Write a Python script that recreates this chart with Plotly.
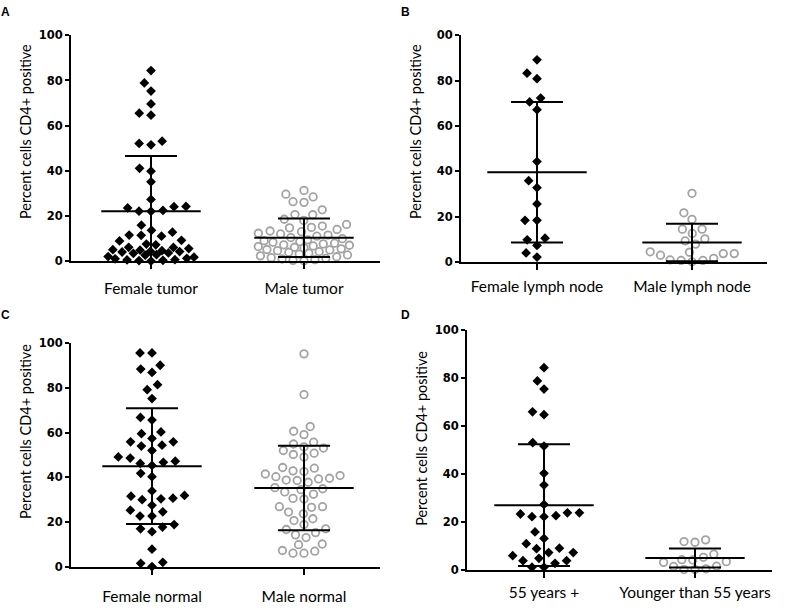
import math
import plotly.graph_objects as go

# ---------------- data ----------------
panel_letters = ["A", "B", "C", "D"]
y_title = "Percent cells CD4+ positive"
y_tick_vals = [0, 20, 40, 60, 80, 100]
y_tick_text = ["0", "20", "40", "60", "80", "100"]
y_tick_text_b = ["0", "20", "40", "60", "80", "00"]

cats_a = ["Female tumor", "Male tumor"]
cats_b = ["Female lymph node", "Male lymph node"]
cats_c = ["Female normal", "Male normal"]
cats_d = ["55 years +", "Younger than 55 years"]

female_tumor = [84.4, 78.9, 75.3, 69.6, 65.5, 64.6, 53.1, 52.1, 51.5, 41.1, 39.8, 35.1, 27.3,
                24.2, 24.1, 23.5, 22.4, 22.1, 22.0, 15.9, 13.6, 12.8, 11.5, 11.4, 11.0, 9.2, 8.9,
                7.5, 7.2, 6.1, 6.0, 5.5, 5.0, 4.8, 4.6, 4.3, 4.2, 4.0, 3.6, 3.4, 2.8, 2.6, 2.0,
                1.7, 1.2, 1.0, 0.6, 0.5, 0.3, 0.2, 0.0]
male_tumor = [31.3, 29.6, 28.4, 26.3, 26.0, 22.7, 20.6, 20.5, 18.5, 18.0, 16.2, 15.5, 14.9,
              14.7, 14.0, 13.3, 13.0, 12.3, 12.0, 11.5, 11.0, 10.4, 9.9, 9.4, 9.0, 8.6, 8.3, 7.9,
              7.6, 7.2, 7.0, 6.7, 6.4, 6.1, 5.8, 5.4, 5.1, 4.9, 4.6, 4.2, 3.9, 3.5, 3.1, 2.7, 2.3,
              1.9, 1.5, 1.2, 0.9, 0.6, 0.3, 0.1]
female_ln = [89.2, 83.3, 80.9, 72.3, 70.6, 67.2, 44.3, 35.9, 32.8, 25.6, 18.4, 18.4, 10.5,
             9.8, 7.3, 4.0, 2.2]
male_ln = [30.3, 21.7, 18.8, 14.5, 14.5, 12.6, 10.2, 9.3, 7.9, 4.5, 4.3, 3.7, 3.7, 3.0, 1.6,
           0.9, 0.7, 0.7, 0.1]
female_normal = [95.6, 95.6, 90.1, 88.4, 86.9, 81.4, 79.2, 75.2, 66.8, 65.6, 60.3, 59.5, 57.4,
                 55.9, 55.9, 54.4, 54.0, 52.0, 49.1, 48.6, 47.2, 46.7, 46.2, 45.3, 41.8, 40.3,
                 33.9, 31.9, 31.6, 30.7, 30.4, 30.0, 27.5, 25.3, 24.6, 22.7, 22.7, 18.9, 17.8,
                 17.0, 15.7, 7.9, 2.0, 1.6, 0.1]
male_normal = [95.2, 77.0, 62.7, 60.6, 59.1, 55.7, 54.9, 53.6, 53.1, 52.0, 50.8, 50.2, 49.1,
               44.4, 44.1, 42.9, 42.6, 41.5, 40.8, 40.3, 39.6, 39.3, 38.8, 38.6, 37.8, 35.4,
               34.9, 34.5, 33.5, 32.5, 30.6, 30.3, 26.9, 26.9, 26.6, 24.5, 23.7, 21.5, 20.7,
               18.9, 17.0, 16.7, 15.3, 14.3, 13.1, 10.2, 9.9, 7.3, 7.0, 6.1, 6.1]
older_55 = [84.4, 78.9, 75.5, 66.0, 64.8, 53.1, 51.7, 40.3, 35.4, 27.3, 23.8, 23.8, 23.3, 22.6,
            22.2, 22.2, 15.8, 13.1, 10.9, 9.0, 8.8, 7.2, 7.2, 5.9, 4.8, 3.8, 3.8, 2.7, 1.1, 1.1]
younger_55 = [12.5, 11.8, 11.5, 6.5, 5.2, 4.2, 4.1, 3.4, 3.1, 1.5, 1.4, 0.4, 0.1, 0.1]

# mean and SD shown as lines
means_a = [22.0, 10.3]
sds_a = [24.5, 8.5]
means_b = [39.6, 8.6]
sds_b = [31.0, 8.3]
means_c = [45.0, 35.2]
sds_c = [25.9, 18.9]
means_d = [27.0, 4.9]
sds_d = [25.4, 4.0]

# ---------------- layout geometry (pixels) ----------------
W, H = 785, 610
geom = {
    "A": dict(xl=71, xr=380, c0=151, c1=304, ytop=29, ybot=260),
    "B": dict(xl=461, xr=767, c0=537, c1=692, ytop=29, ybot=261),
    "C": dict(xl=71, xr=380, c0=152, c1=304, ytop=344, ybot=573),
    "D": dict(xl=467, xr=772, c0=544, c1=695, ytop=331, ybot=576),
}
title_pos = {"A": (25, 128), "B": (415, 128), "C": (25, 435), "D": (422, 442)}
letter_pos = {"A": (5, 5), "B": (405, 5), "C": (5, 315), "D": (405, 315)}
cat_standoff = {"A": 6, "B": 3, "C": 9, "D": 2}

panels = [
    ("A", cats_a, female_tumor, male_tumor, means_a, sds_a),
    ("B", cats_b, female_ln, male_ln, means_b, sds_b),
    ("C", cats_c, female_normal, male_normal, means_c, sds_c),
    ("D", cats_d, older_55, younger_55, means_d, sds_d),
]


def swarm(vals, ky, dx_min, dy_min, w_max):
    """Greedy beeswarm offsets (px); spacing is relaxed where a band gets too wide."""
    order = sorted(range(len(vals)), key=lambda i: vals[i])
    placed = []
    out = [0.0] * len(vals)

    def ok(c, y, dxm):
        for px, py in placed:
            if ((c - px) / dxm) ** 2 + ((y - py) / dy_min) ** 2 < 1 - 1e-6:
                return False
        return True

    for i in order:
        y = vals[i] * ky
        chosen = None
        fallback = None
        for f in (1.0, 0.9, 0.8, 0.7, 0.6, 0.5, 0.42, 0.35):
            dxm = dx_min * f
            cands = [0.0]
            for px, py in placed:
                dy = abs(py - y)
                if dy < dy_min:
                    dx = dxm * math.sqrt(1 - (dy / dy_min) ** 2)
                    cands += [px + dx, px - dx]
            cands.sort(key=lambda c: (round(abs(c), 3), c))
            for c in cands:
                if ok(c, y, dxm):
                    if abs(c) <= w_max:
                        chosen = c
                    elif fallback is None:
                        fallback = c
                    break
            if chosen is not None:
                break
        c = chosen if chosen is not None else (fallback or 0.0)
        out[i] = c
        placed.append((c, y))
    return out


fig = go.Figure()
layout_axes = {}
annotations = []
black = "#000000"
gray = "#a3a3a3"
cat_font = dict(family="Lato, 'Open Sans', sans-serif", size=15.5, color=black)
title_font = dict(family="Lato, 'Open Sans', sans-serif", size=14.5, color=black)

for k, (key, cats, g1, g2, means, sds) in enumerate(panels):
    g = geom[key]
    s = g["c1"] - g["c0"]
    kx = s
    ky = (g["ybot"] - g["ytop"]) / 100.0
    xa = "x" if k == 0 else f"x{k+1}"
    ya = "y" if k == 0 else f"y{k+1}"
    xname = "xaxis" if k == 0 else f"xaxis{k+1}"
    yname = "yaxis" if k == 0 else f"yaxis{k+1}"

    off1 = swarm(g1, ky, 12.0, 10.0, 44)
    off2 = swarm(g2, ky, 11.0, 10.0, 46)
    fig.add_trace(go.Scatter(
        x=[0 + o / kx for o in off1], y=g1, xaxis=xa, yaxis=ya, mode="markers",
        marker=dict(symbol="diamond", size=7.5, color=black, line=dict(width=0)),
        cliponaxis=False, showlegend=False, hoverinfo="y"))
    fig.add_trace(go.Scatter(
        x=[1 + o / kx for o in off2], y=g2, xaxis=xa, yaxis=ya, mode="markers",
        marker=dict(symbol="circle-open", size=7.5, color=gray, line=dict(width=1.8, color=gray)),
        cliponaxis=False, showlegend=False, hoverinfo="y"))
    fig.add_trace(go.Scatter(
        x=[0, 1], y=means, xaxis=xa, yaxis=ya, mode="markers",
        marker=dict(symbol="line-ew", size=71, color=black, line=dict(width=2, color=black)),
        error_y=dict(type="data", array=sds, visible=True, color=black, thickness=2, width=26),
        cliponaxis=True, showlegend=False, hoverinfo="y"))

    xr0 = (g["xl"] - g["c0"]) / s
    xr1 = (g["xr"] - g["c0"]) / s
    layout_axes[xname] = dict(
        domain=[g["xl"] / W, g["xr"] / W], range=[xr0, xr1], anchor=ya,
        showgrid=False, zeroline=False, showline=True, linecolor=black, linewidth=2,
        tickmode="array", tickvals=[0, 1], ticktext=cats, ticks="outside",
        ticklen=6, tickwidth=2, tickcolor=black, tickfont=cat_font,
        ticklabelstandoff=cat_standoff[key], fixedrange=True)
    layout_axes[yname] = dict(
        domain=[1 - g["ybot"] / H, 1 - g["ytop"] / H], range=[0, 100], anchor=xa,
        showgrid=False, zeroline=False, showline=True, linecolor=black, linewidth=2,
        tickmode="array", tickvals=y_tick_vals,
        ticktext=y_tick_text_b if key == "B" else y_tick_text,
        ticks="outside", ticklen=4, tickwidth=2, tickcolor=black,
        tickfont=dict(family="'DejaVu Sans', sans-serif", size=11.5, color=black, weight="bold"),
        fixedrange=True)
    tx, ty = title_pos[key]
    annotations.append(dict(
        text=y_title, x=tx / W, y=1 - ty / H, xref="paper", yref="paper",
        xanchor="center", yanchor="middle", textangle=-90, showarrow=False, font=title_font))
    lx, ly = letter_pos[key]
    annotations.append(dict(
        text=f"<b>{panel_letters[k]}</b>", x=lx / W, y=1 - ly / H, xref="paper", yref="paper",
        xanchor="center", yanchor="middle", showarrow=False,
        font=dict(family="'Liberation Sans', Arial, sans-serif", size=12, color=black)))

fig.update_layout(
    width=W, height=H, margin=dict(l=0, r=0, t=0, b=0),
    paper_bgcolor="white", plot_bgcolor="white",
    annotations=annotations, **layout_axes)

fig.write_html("out.html", config={"displayModeBar": False},
               post_script="document.body.style.margin='0';"
               "document.body.style.overflow='hidden';")
